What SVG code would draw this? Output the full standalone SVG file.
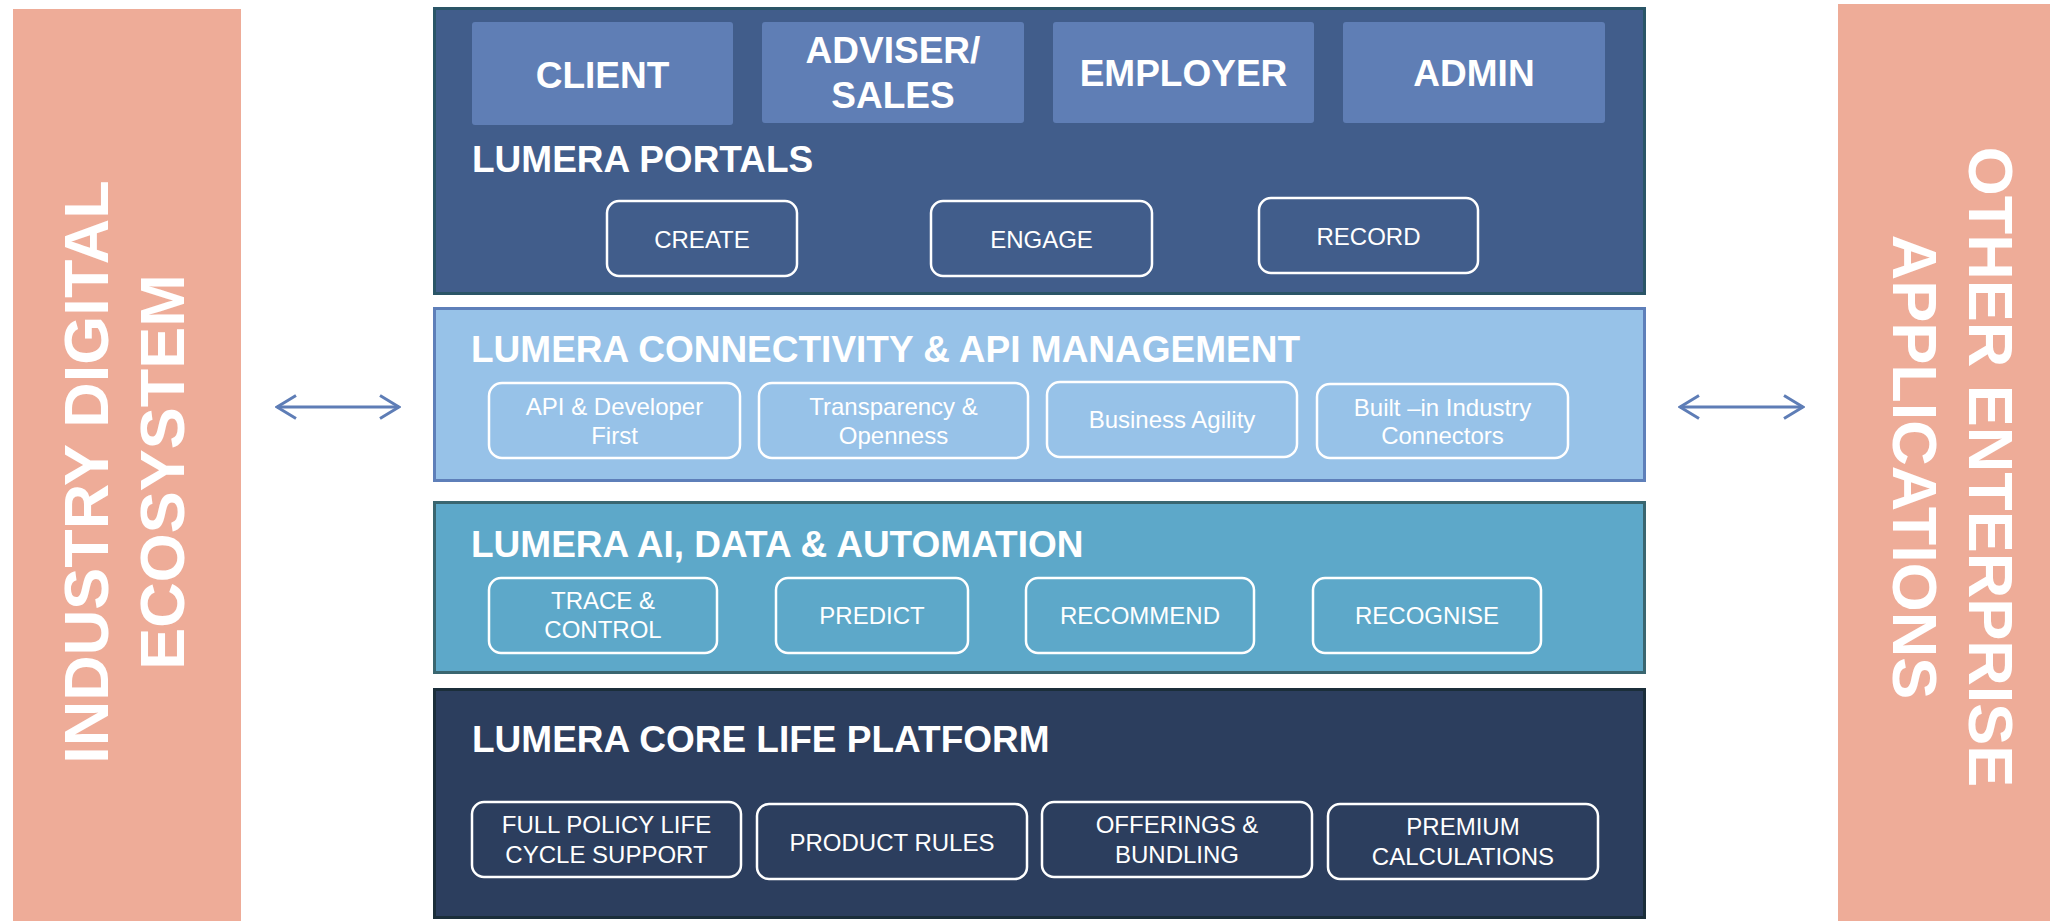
<svg xmlns="http://www.w3.org/2000/svg" width="2050" height="921" viewBox="0 0 2050 921">
<style>
.side{fill:#EEAC98}
.sidet{font-family:"Liberation Sans",Arial,sans-serif;font-weight:bold;font-size:63px;fill:#fff;text-anchor:middle}
.title{font-family:"Liberation Sans",Arial,sans-serif;font-weight:bold;font-size:37px;fill:#fff}
.user{fill:#5F7EB5}
.usert{font-family:"Liberation Sans",Arial,sans-serif;font-weight:bold;font-size:37px;fill:#fff;text-anchor:middle}
.box{fill:none;stroke:#fff;stroke-width:2.5}
.boxt{font-family:"Liberation Sans",Arial,sans-serif;font-size:24px;fill:#fff;text-anchor:middle}
.conn{stroke:#5E7DB6;stroke-width:3;fill:none}
</style>
<defs>
<marker id="chev" viewBox="0 0 22 26" refX="20" refY="13" markerWidth="22" markerHeight="26" markerUnits="userSpaceOnUse" orient="auto-start-reverse">
<path d="M1,1.5 L20,13 L1,24.5" fill="none" stroke="#5E7DB6" stroke-width="3"/>
</marker>
</defs>
<rect width="2050" height="921" fill="#fff"/>

<g id="industry-digital-ecosystem">
<rect class="side" x="13" y="9" width="228" height="912"/>
<text class="sidet" transform="translate(108,472) rotate(-90)">INDUSTRY DIGITAL</text>
<text class="sidet" transform="translate(184,472) rotate(-90)">ECOSYSTEM</text>
</g>

<g id="other-enterprise-applications">
<rect class="side" x="1838" y="4" width="212" height="917"/>
<text class="sidet" transform="translate(1969,467) rotate(90)">OTHER ENTERPRISE</text>
<text class="sidet" transform="translate(1893,467) rotate(90)">APPLICATIONS</text>
</g>

<g id="lumera-portals">
<rect x="434.5" y="8.5" width="1210" height="285" fill="#415D8B" stroke="#2A5567" stroke-width="3"/>
<rect class="user" x="472" y="22" width="261" height="103" rx="3"/>
<text class="usert" x="602.5" y="88">CLIENT</text>
<rect class="user" x="762" y="22" width="262" height="101" rx="3"/>
<text class="usert" x="893" y="63">ADVISER/</text>
<text class="usert" x="893" y="108">SALES</text>
<rect class="user" x="1053" y="22" width="261" height="101" rx="3"/>
<text class="usert" x="1183.5" y="86">EMPLOYER</text>
<rect class="user" x="1343" y="22" width="262" height="101" rx="3"/>
<text class="usert" x="1474" y="86">ADMIN</text>
<text class="title" x="472" y="172">LUMERA PORTALS</text>
<rect class="box" x="607" y="201" width="190" height="75" rx="12"/>
<text class="boxt" x="702" y="248">CREATE</text>
<rect class="box" x="931" y="201" width="221" height="75" rx="12"/>
<text class="boxt" x="1041.5" y="248">ENGAGE</text>
<rect class="box" x="1259" y="198" width="219" height="75" rx="12"/>
<text class="boxt" x="1368.5" y="245">RECORD</text>
</g>

<g id="lumera-connectivity">
<rect x="434.5" y="308.5" width="1210" height="172" fill="#97C2E8" stroke="#5E7FB9" stroke-width="3"/>
<text class="title" x="471" y="362">LUMERA CONNECTIVITY &amp; API MANAGEMENT</text>
<rect class="box" x="489" y="383" width="251" height="75" rx="13"/>
<text class="boxt" x="614.5" y="415">API &amp; Developer</text>
<text class="boxt" x="614.5" y="444">First</text>
<rect class="box" x="759" y="383" width="269" height="75" rx="13"/>
<text class="boxt" x="893.5" y="415">Transparency &amp;</text>
<text class="boxt" x="893.5" y="444">Openness</text>
<rect class="box" x="1047" y="382" width="250" height="75" rx="13"/>
<text class="boxt" x="1172" y="428">Business Agility</text>
<rect class="box" x="1317" y="384" width="251" height="74" rx="13"/>
<text class="boxt" x="1442.5" y="416">Built –in Industry</text>
<text class="boxt" x="1442.5" y="444">Connectors</text>
</g>

<g id="lumera-ai-data-automation">
<rect x="434.5" y="502.5" width="1210" height="170" fill="#5DA8C9" stroke="#3A6670" stroke-width="3"/>
<text class="title" x="471" y="557">LUMERA AI, DATA &amp; AUTOMATION</text>
<rect class="box" x="489" y="578" width="228" height="75" rx="12"/>
<text class="boxt" x="603" y="609">TRACE &amp;</text>
<text class="boxt" x="603" y="638">CONTROL</text>
<rect class="box" x="776" y="578" width="192" height="75" rx="12"/>
<text class="boxt" x="872" y="624">PREDICT</text>
<rect class="box" x="1026" y="578" width="228" height="75" rx="12"/>
<text class="boxt" x="1140" y="624">RECOMMEND</text>
<rect class="box" x="1313" y="578" width="228" height="75" rx="12"/>
<text class="boxt" x="1427" y="624">RECOGNISE</text>
</g>

<g id="lumera-core-life-platform">
<rect x="434.5" y="689.5" width="1210" height="228" fill="#2C3E5E" stroke="#1B2E3A" stroke-width="3"/>
<text class="title" x="472" y="752">LUMERA CORE LIFE PLATFORM</text>
<rect class="box" x="472" y="802" width="269" height="75" rx="12"/>
<text class="boxt" x="606.5" y="833">FULL POLICY LIFE</text>
<text class="boxt" x="606.5" y="863">CYCLE SUPPORT</text>
<rect class="box" x="757" y="804" width="270" height="75" rx="12"/>
<text class="boxt" x="892" y="851">PRODUCT RULES</text>
<rect class="box" x="1042" y="802" width="270" height="75" rx="12"/>
<text class="boxt" x="1177" y="833">OFFERINGS &amp;</text>
<text class="boxt" x="1177" y="863">BUNDLING</text>
<rect class="box" x="1328" y="804" width="270" height="75" rx="12"/>
<text class="boxt" x="1463" y="835">PREMIUM</text>
<text class="boxt" x="1463" y="865">CALCULATIONS</text>
</g>

<g id="connectors">
<line class="conn" x1="277" y1="407" x2="399" y2="407" marker-start="url(#chev)" marker-end="url(#chev)"/>
<line class="conn" x1="1680" y1="407" x2="1803" y2="407" marker-start="url(#chev)" marker-end="url(#chev)"/>
</g>
</svg>
